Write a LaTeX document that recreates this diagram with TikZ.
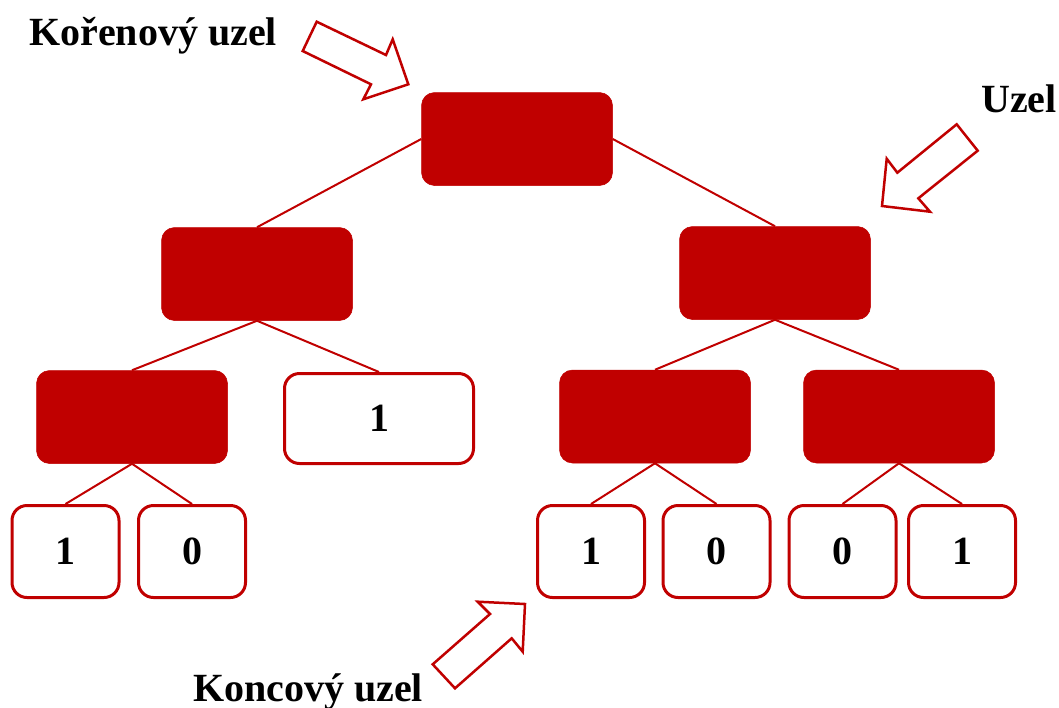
\documentclass[tikz,border=0pt]{standalone}
\usepackage{fontspec}
\setmainfont{Liberation Serif}
\definecolor{dred}{RGB}{192,0,0}
\begin{document}
\begin{tikzpicture}[x=1pt,y=-1pt,
  inner/.style={rectangle,fill=dred,draw=dred,line width=0.5pt,rounded corners=13pt,minimum width=191pt,minimum height=93pt,inner sep=0pt},
  leaf/.style={rectangle,fill=white,draw=dred,line width=3pt,rounded corners=15pt,minimum width=107pt,minimum height=92pt,inner sep=0pt,font=\fontsize{40}{40}\selectfont\bfseries},
  wideleaf/.style={leaf,minimum width=189pt,minimum height=90pt},
  conn/.style={draw=dred,line width=2pt},
  bigarrow/.style={draw=dred,fill=white,line width=2.5pt,line join=miter},
  lbl/.style={anchor=base,inner sep=0pt,font=\fontsize{40}{40}\selectfont\bfseries}]
\useasboundingbox (0,0) rectangle (1059,707);

% nodes
\node[inner] (root) at (517,139) {};
\node[inner] (l1a) at (257,274) {};
\node[inner] (l1b) at (775,273) {};
\node[inner] (l2a) at (132,417) {};
\node[wideleaf] (lm) at (379,418.5) {1};
\node[inner] (l2b) at (655,416.5) {};
\node[inner] (l2c) at (899,416.5) {};
\node[leaf] (a1) at (65.5,551.5) {1};
\node[leaf] (a2) at (192,551.5) {0};
\node[leaf] (b1) at (591,551.5) {1};
\node[leaf] (b2) at (716.5,551.5) {0};
\node[leaf] (c1) at (842.5,551.5) {0};
\node[leaf] (c2) at (962,551.5) {1};

% connectors
\draw[conn] (root.west) -- (l1a.north);
\draw[conn] (root.east) -- (l1b.north);
\draw[conn] (l1a.south) -- (l2a.north);
\draw[conn] (l1a.south) -- (lm.north);
\draw[conn] (l1b.south) -- (l2b.north);
\draw[conn] (l1b.south) -- (l2c.north);
\draw[conn] (l2a.south) -- (a1.north);
\draw[conn] (l2a.south) -- (a2.north);
\draw[conn] (l2b.south) -- (b1.north);
\draw[conn] (l2b.south) -- (b2.north);
\draw[conn] (l2c.south) -- (c1.north);
\draw[conn] (l2c.south) -- (c2.north);

% block arrows
\draw[bigarrow] (316.7,21.7) -- (386,55) -- (392.7,39.3) -- (408.3,84.3) -- (363.3,99.3) -- (371,84.3) -- (302.7,51) -- cycle;
\draw[bigarrow] (956.7,124.3) -- (977.7,150.7) -- (918.3,198.3) -- (930,211.7) -- (882,206) -- (886.7,158.7) -- (897.3,172.7) -- cycle;
\draw[bigarrow] (477.7,601.7) -- (525,604) -- (522.7,651.7) -- (511.7,638.3) -- (455,688.3) -- (432.7,664.3) -- (490,614) -- cycle;

% labels
\node[lbl] (t1) at (153,45) {Kořenový uzel};
\node[lbl] (t2) at (1019,112.7) {Uzel};
\node[lbl] (t3) at (308,701.7) {Koncový uzel};
\end{tikzpicture}
\end{document}
